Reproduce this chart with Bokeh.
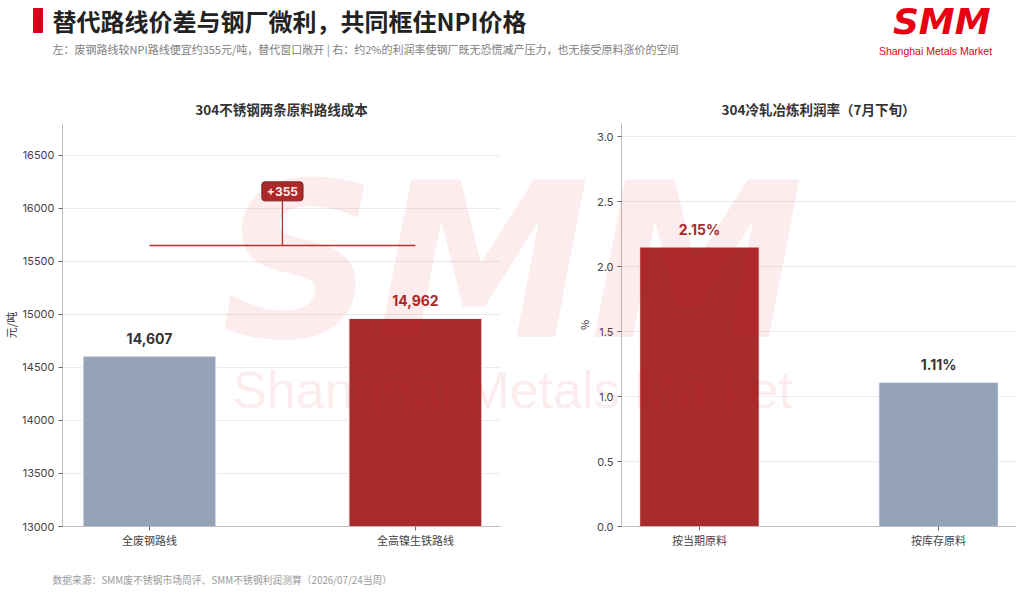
from bokeh.plotting import figure
from bokeh.models import Range1d, FixedTicker, PrintfTickFormatter, Label, ColumnDataSource, BasicTickFormatter
from bokeh.layouts import column, row
from bokeh.embed import file_html
from bokeh.resources import INLINE
from bokeh.core.properties import value

# ---------------- data ----------------
TITLE = "替代路线价差与钢厂微利，共同框住NPI价格"
SUBTITLE = "左：废钢路线较NPI路线便宜约355元/吨，替代窗口敞开  |  右：约2%的利润率使钢厂既无恐慌减产压力，也无接受原料涨价的空间"
SOURCE = "数据来源：SMM废不锈钢市场周评、SMM不锈钢利润测算（2026/07/24当周）"

cost_title = "304不锈钢两条原料路线成本"
cost_routes = ["全废钢路线", "全高镍生铁路线"]
cost_values = [14607, 14962]
cost_ticks = [13000, 13500, 14000, 14500, 15000, 15500, 16000, 16500]
cost_ymin = 13000
cost_ymax = 16800
cost_unit = "元/吨"
bracket_level = 15650
bracket_label_level = 16160

margin_title = "304冷轧冶炼利润率（7月下旬）"
margin_basis = ["按当期原料", "按库存原料"]
margin_values = [2.15, 1.11]
margin_ticks = [0.0, 0.5, 1.0, 1.5, 2.0, 2.5, 3.0]
margin_ymin = 0.0
margin_ymax = 3.1
margin_unit = "%"

# ---------------- styles ----------------
RED = "#a82c2c"
GREY = "#94a3b8"
BRAND = "#e60012"
DARK = "#333333"
CJK = "Noto Sans CJK SC"
NUM = "Inter"
W = 1024
H = 594


def blank(width, y0, y1):
    p = figure(width=width, height=y1 - y0, x_range=Range1d(0, width),
               y_range=Range1d(y1, y0), toolbar_location=None, output_backend="svg",
               x_axis_location=None, y_axis_location=None, min_border=0)
    p.grid.visible = False
    p.outline_line_color = None
    return p


# header (page pixel coordinates)
hdr = blank(W, 0, 123)
hdr.quad(left=[33], right=[42], top=[8], bottom=[32], color="#d9001b")
hdr.text(x=[52], y=[20], text=[TITLE], text_font=value(CJK), text_font_style="bold",
         text_font_size="24px", text_color="#222222", text_baseline="middle")
hdr.text(x=[52], y=[48], text=[SUBTITLE], text_font=value(CJK),
         text_font_size="11px", text_color="#808080", text_baseline="middle")
hdr.text(x=[990], y=[21], text=["SMM"], text_font=value("DejaVu Sans"), text_font_style="bold italic",
         text_font_size="36px", text_color=BRAND, text_align="right", text_baseline="middle")
hdr.text(x=[935], y=[50], text=["Shanghai Metals Market"], text_font=value("Liberation Sans"),
         text_font_size="10.5px", text_color=BRAND, text_align="center", text_baseline="middle")
hdr.text(x=[281, 818], y=[108, 108], text=[cost_title, margin_title], text_font=value(CJK),
         text_font_style="bold", text_font_size="13.5px", text_color=DARK,
         text_align="center", text_baseline="middle")


def chart(width, bl, br, xr, ymin, ymax, cats, vals, bar_colors, lab_colors,
          labels, ticks, fmt, unit, unit_standoff):
    p = figure(width=width, height=440, x_range=Range1d(*xr), y_range=Range1d(ymin, ymax),
               toolbar_location=None, output_backend="svg",
               min_border_left=bl, min_border_right=br, min_border_top=0, min_border_bottom=37)
    p.outline_line_color = None
    p.xgrid.visible = False
    p.ygrid.grid_line_color = "#ebebeb"
    p.ygrid.grid_line_width = 1

    p.xaxis.ticker = FixedTicker(ticks=list(range(len(cats))))
    p.xaxis.major_label_overrides = {i: c for i, c in enumerate(cats)}
    p.yaxis.ticker = FixedTicker(ticks=ticks)
    p.yaxis.formatter = fmt
    p.yaxis.axis_label = unit
    p.yaxis.axis_label_standoff = unit_standoff
    p.yaxis.axis_label_text_font = CJK
    p.yaxis.axis_label_text_font_style = "normal"
    p.yaxis.axis_label_text_font_size = "11px"
    p.yaxis.axis_label_text_color = DARK
    for ax in (p.xaxis, p.yaxis):
        ax.axis_line_color = "#bdbdbd"
        ax.major_tick_line_color = "#666666"
        ax.major_tick_out = 4
        ax.major_tick_in = 0
        ax.minor_tick_line_color = None
        ax.major_label_text_color = "#444444"
        ax.major_label_text_font_size = "11px"
    p.yaxis.major_label_standoff = 4
    p.xaxis.major_label_standoff = 1
    p.xaxis.major_label_text_font = CJK
    p.yaxis.major_label_text_font = NUM

    src = ColumnDataSource(dict(x=list(range(len(cats))), top=vals, color=bar_colors,
                                lc=lab_colors, label=labels))
    p.vbar(x="x", top="top", bottom=ymin, width=0.5, fill_color="color",
           line_color="white", line_width=1, source=src)
    p.text(x="x", y="top", text="label", text_color="lc", text_font=value(NUM),
           text_font_style="bold", text_font_size="14px", text_align="center",
           text_baseline="middle", y_offset=-18, source=src)
    return p


left = chart(560, 62, 60, (-0.327, 1.320), cost_ymin, cost_ymax,
             cost_routes, cost_values, [GREY, RED], [DARK, RED],
             [f"{v:,}" for v in cost_values], cost_ticks,
             BasicTickFormatter(use_scientific=False), cost_unit, 0)

diff = cost_values[1] - cost_values[0]
left.segment(x0=[0], y0=[bracket_level], x1=[1], y1=[bracket_level],
             line_color="#b23434", line_width=1.6)
left.segment(x0=[0.5], y0=[bracket_level], x1=[0.5], y1=[bracket_label_level],
             line_color="#b23434", line_width=1.3)
left.add_layout(Label(x=0.5, y=bracket_label_level, text=f"+{diff}", text_align="center",
                      text_baseline="middle", text_color="white", text_font=NUM,
                      text_font_style="bold", text_font_size="12px",
                      background_fill_color=RED, border_line_color="#7d1f1f",
                      border_line_width=1, padding=5, border_radius=3))

right = chart(464, 61, 8, (-0.326, 1.326), margin_ymin, margin_ymax,
              margin_basis, margin_values, [RED, GREY], [RED, DARK],
              [f"{v:.2f}%" for v in margin_values], margin_ticks,
              PrintfTickFormatter(format="%.1f"), margin_unit, 2)

ftr = blank(W, 563, 594)
ftr.text(x=[52], y=[579], text=[SOURCE], text_font=value(CJK), text_font_size="9.8px",
         text_color="#9a9a9a", text_baseline="middle")

# transparent watermark layer over the whole page
wm = blank(W, 0, H)
wm.background_fill_color = None
wm.border_fill_color = None
wm.styles = {"position": "absolute", "left": "0px", "top": "0px",
             "z-index": "10", "pointer-events": "none"}
wm.text(x=[512], y=[262], text=["SMM"], text_font=value("DejaVu Sans"),
        text_font_style="bold italic", text_font_size="215px", text_color=BRAND,
        text_alpha=0.075, text_align="center", text_baseline="middle")
wm.text(x=[512], y=[389], text=["Shanghai Metals Market"],
        text_font=value("Liberation Sans"), text_font_size="52px", text_color=BRAND,
        text_alpha=0.075, text_align="center", text_baseline="middle")

layout = column(hdr, row(left, right), ftr, wm)
open("out.html", "w").write(file_html(layout, INLINE))
